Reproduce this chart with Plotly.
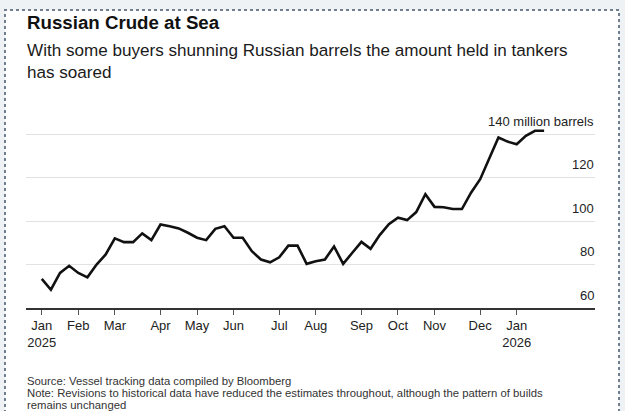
import pandas as pd
import plotly.graph_objects as go

# ---- data ----
week_start = "2025-01-05"
n_weeks = 56
crude_at_sea = [
    73.4, 68.4, 76.1, 79.4, 76.1, 74.1, 80.0, 84.6, 92.0, 90.3,
    90.3, 94.3, 91.2, 98.4, 97.6, 96.6, 94.6, 92.3, 91.2, 96.4,
    97.6, 92.3, 92.3, 86.1, 82.3, 81.0, 83.3, 88.7, 88.7, 80.3,
    81.5, 82.3, 88.3, 80.3, 85.4, 90.4, 87.2, 93.5, 98.5, 101.5,
    100.4, 104.1, 112.3, 106.5, 106.3, 105.5, 105.5, 113.0, 119.2, 128.6,
    138.4, 136.5, 135.3, 139.2, 141.5, 141.5,
]
x_tick_dates = ["2025-01-05", "2025-02-02", "2025-03-02", "2025-04-06", "2025-05-04",
                "2025-06-01", "2025-07-06", "2025-08-03", "2025-09-07", "2025-10-05",
                "2025-11-02", "2025-12-07", "2026-01-04"]
x_tick_labels = ["Jan<br>2025", "Feb", "Mar", "Apr", "May", "Jun", "Jul", "Aug",
                 "Sep", "Oct", "Nov", "Dec", "Jan<br>2026"]
y_tick_values = [60, 80, 100, 120, 140]
y_tick_labels = ["60", "80", "100", "120", "140 million barrels"]

title = "<b>Russian Crude at Sea</b>"
subtitle_lines = ["With some buyers shunning Russian barrels the amount held in tankers",
                  "has soared"]
footer_lines = ["Source: Vessel tracking data compiled by Bloomberg",
                "Note: Revisions to historical data have reduced the estimates throughout, although the pattern of builds",
                "remains unchanged"]

dates = pd.date_range(week_start, periods=n_weeks, freq="7D")

# ---- layout geometry (pixels) ----
W, H = 625, 411
L, R, T, B = 26, 30, 110, 103
PW, PH = W - L - R, H - T - B
PX_PER_UNIT = 2.175


def px(x):
    return (x - L) / PW


def py(y):
    return (H - B - y) / PH


FONT = "Liberation Sans, Arial, sans-serif"

fig = go.Figure()
fig.add_trace(go.Scatter(
    x=dates, y=crude_at_sea, mode="lines",
    line=dict(color="#111111", width=2.6),
    hoverinfo="skip", showlegend=False,
))

annotations = [
    dict(text=title, x=px(25), y=py(22), xanchor="left", yanchor="middle",
         xref="paper", yref="paper",
         font=dict(size=18.7, color="#111111", family=FONT)),
]
for i, line in enumerate(subtitle_lines):
    annotations.append(dict(text=line, x=px(25), y=py(50 + 22 * i), xanchor="left",
                            yanchor="middle", xref="paper", yref="paper",
                            font=dict(size=17.1, color="#1a1a1a", family=FONT)))
for i, line in enumerate(footer_lines):
    annotations.append(dict(text=line, x=px(25), y=py(381 + 12 * i), xanchor="left",
                            yanchor="middle", xref="paper", yref="paper",
                            font=dict(size=11.3, color="#333333", family=FONT)))
# y-axis labels sitting above their gridlines, right-aligned inside the plot
for val, lab in zip(y_tick_values, y_tick_labels):
    annotations.append(dict(text=lab, x=px(596), y=val, xref="paper", yref="y",
                            xanchor="right", yanchor="middle", yshift=12.6,
                            font=dict(size=13, color="#222222", family=FONT)))
for a in annotations:
    a.update(showarrow=False, align="left")

fig.update_layout(
    width=W, height=H,
    margin=dict(l=L, r=R, t=T, b=B, pad=0),
    paper_bgcolor="#eef2f5",
    plot_bgcolor="white",
    font=dict(family=FONT, color="#222222", size=13),
    annotations=annotations,
    shapes=[dict(type="rect", xref="paper", yref="paper",
                 x0=px(5), x1=px(619), y0=py(440), y1=py(10),
                 fillcolor="white", layer="below",
                 line=dict(color="#6f7f8f", width=2, dash="dot"))],
    xaxis=dict(
        range=["2024-12-23 22:00", "2026-03-05"],
        tickmode="array", tickvals=x_tick_dates, ticktext=x_tick_labels,
        ticks="outside", ticklen=5, tickcolor="#555555", tickwidth=1,
        showline=True, linecolor="#333333", linewidth=1.5,
        showgrid=False, zeroline=False,
        tickfont=dict(size=13, color="#222222"),
    ),
    yaxis=dict(
        range=[60, 60 + PH / PX_PER_UNIT], side="right",
        tickmode="array", tickvals=y_tick_values,
        showticklabels=False, ticks="",
        showgrid=True, gridcolor="#e2e2e2", gridwidth=1,
        zeroline=False, showline=False,
    ),
)

fig.write_html("out.html", config={"displayModeBar": False},
               post_script="document.body.style.margin='0';document.body.style.overflow='hidden';")
